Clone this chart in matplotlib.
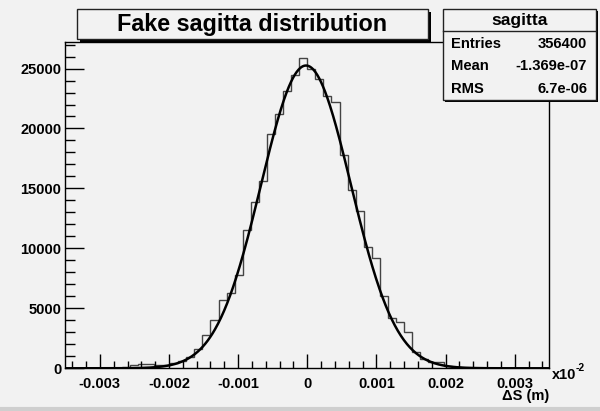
import numpy as np
import matplotlib
matplotlib.use("Agg")
import matplotlib.pyplot as plt
from matplotlib.patches import Rectangle
from matplotlib.ticker import MultipleLocator

# histogram: 60 bins over [-0.0035, 0.0035], counts
x_min, x_max, n_bins = -0.0035, 0.0035, 60
counts = [
    0, 0, 10, 10, 20, 30, 60, 100, 250, 360,
    360, 250, 250, 470, 610, 970, 1610, 2775, 4025, 5700,
    6300, 7775, 11525, 13880, 15630, 19580, 21190, 23100, 24500, 25917,
    25000, 24100, 22717, 22217, 17800, 14850, 13130, 10080, 9170, 6050,
    4170, 3830, 3000, 1380, 800, 500, 500, 170, 90, 60,
    40, 30, 20, 20, 10, 10, 10, 0, 0, 0,
]

# gaussian fit parameters
fit_const = 25250
fit_mean = -1.9e-5
fit_sigma = 6.5e-4

title = "Fake sagitta distribution"
stats_name = "sagitta"
stats_rows = [("Entries", "356400"), ("Mean", "-1.369e-07"), ("RMS", "6.7e-06")]
x_ticks = [-0.003, -0.002, -0.001, 0, 0.001, 0.002, 0.003]
x_tick_labels = ["-0.003", "-0.002", "-0.001", "0", "0.001", "0.002", "0.003"]
y_ticks = [0, 5000, 10000, 15000, 20000, 25000]

W, H = 600, 411
BG = "#f2f2f2"
FONT = "Liberation Sans"

plt.rcParams["font.family"] = FONT
plt.rcParams["font.weight"] = "bold"

fig = plt.figure(figsize=(W / 100, H / 100), dpi=100, facecolor=BG)


def fx(px):
    return px / W


def fy(py):
    return 1 - py / H


def box(x0, y0, x1, y1, shadow=3, lw=1.0):
    # ROOT style pave: black drop shadow then framed box
    fig.patches.append(Rectangle((fx(x0 + shadow), fy(y1 + shadow)), fx(x1 - x0), (y1 - y0) / H,
                                 transform=fig.transFigure, facecolor="black", edgecolor="none", zorder=5))
    fig.patches.append(Rectangle((fx(x0), fy(y1)), fx(x1 - x0), (y1 - y0) / H,
                                 transform=fig.transFigure, facecolor=BG, edgecolor="#222222",
                                 linewidth=lw, zorder=6))


ax_l, ax_r, ax_t, ax_b = 65.3, 549.3, 42.0, 368.3
ax = fig.add_axes([fx(ax_l), fy(ax_b), fx(ax_r - ax_l), (ax_b - ax_t) / H])
ax.set_facecolor(BG)

edges = np.linspace(x_min, x_max, n_bins + 1)
ax.stairs(counts, edges, color="#444444", linewidth=1.0, baseline=0)

xs = np.linspace(x_min, x_max, 800)
ax.plot(xs, fit_const * np.exp(-0.5 * ((xs - fit_mean) / fit_sigma) ** 2), color="black", linewidth=1.8)

ax.set_xlim(x_min, x_max)
ax.set_ylim(0, 1.05 * max(counts))
ax.set_xticks(x_ticks)
ax.set_xticklabels(x_tick_labels)
ax.set_yticks(y_ticks)
ax.xaxis.set_minor_locator(MultipleLocator(0.0002))
ax.yaxis.set_minor_locator(MultipleLocator(1000))
ax.tick_params(axis="x", which="major", direction="in", length=10, width=1, labelsize=10.5, pad=6)
ax.tick_params(axis="x", which="minor", direction="in", length=5, width=1)
ax.tick_params(axis="y", which="major", direction="in", length=14, width=1, labelsize=10.5, pad=3)
ax.tick_params(axis="y", which="minor", direction="in", length=7, width=1)
for lbl in ax.get_xticklabels() + ax.get_yticklabels():
    lbl.set_fontweight("bold")
for sp in ax.spines.values():
    sp.set_linewidth(1.0)

fig.text(fx(549), fy(396), "\u0394S (m)", ha="right", va="center", fontsize=10.5, fontweight="bold")
fig.text(fx(552), fy(375), "x10", ha="left", va="center", fontsize=10.5, fontweight="bold")
fig.text(fx(576), fy(368), "-2", ha="left", va="center", fontsize=7.5, fontweight="bold")

# title pave
box(77, 9, 428, 39)
fig.text(fx(252.5), fy(24), title, ha="center", va="center", fontsize=16.8, fontweight="bold", zorder=7)

# stats pave
box(443, 9, 596, 100, shadow=2)
fig.lines.append(plt.Line2D([fx(443), fx(596)], [fy(31.5), fy(31.5)], transform=fig.transFigure,
                            color="#222222", linewidth=1.0, zorder=7))
fig.text(fx(520), fy(20), stats_name, ha="center", va="center", fontsize=12.5, fontweight="bold", zorder=7)
for i, (name, val) in enumerate(stats_rows):
    yy = fy(44 + 22.3 * i)
    fig.text(fx(451), yy, name, ha="left", va="center", fontsize=10.6, fontweight="bold", zorder=7)
    fig.text(fx(587), yy, val, ha="right", va="center", fontsize=10.6, fontweight="bold", zorder=7)

# canvas border
fig.lines.append(plt.Line2D([0, 1], [fy(409), fy(409)], transform=fig.transFigure, color="#cfcfcf", linewidth=3))

fig.savefig("out.png", dpi=100, facecolor=BG)
